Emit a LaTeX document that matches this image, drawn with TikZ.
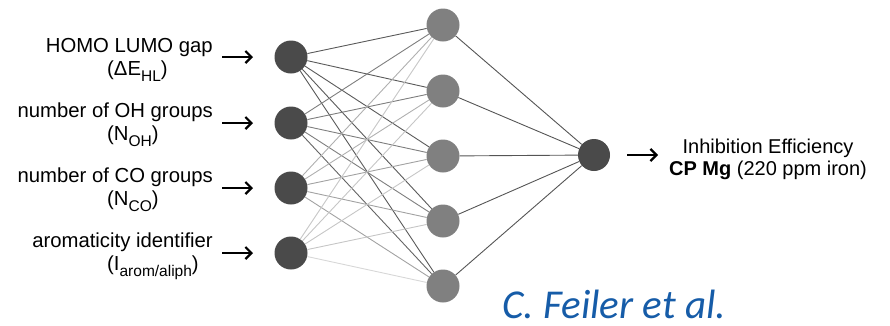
\documentclass[tikz,border=0pt]{standalone}
\usepackage{fontspec}
\setmainfont{Liberation Sans}
\newfontfamily\citefont{Carlito}
\usetikzlibrary{arrows.meta}

\definecolor{nodedark}{HTML}{4A4A4A}
\definecolor{nodemid}{HTML}{808080}
\definecolor{wA}{HTML}{5A5A5A}
\definecolor{wB}{HTML}{7E7E7E}
\definecolor{wC}{HTML}{A2A2A2}
\definecolor{wD}{HTML}{C6C6C6}
\definecolor{wOut}{HTML}{555555}
\definecolor{citeblue}{RGB}{22,92,168}

% lowered, smaller subscript as in the feature labels
\newcommand\lowsub[1]{\raisebox{-6pt}{\fontsize{15.5}{15.5}\selectfont #1}}

\begin{document}
\begin{tikzpicture}[x=1pt,y=-1pt,
  neuron/.style={circle,inner sep=0pt,minimum size=33pt},
  inneuron/.style={neuron,fill=nodedark},
  hidneuron/.style={neuron,fill=nodemid},
  outneuron/.style={neuron,fill=nodedark,minimum size=32pt},
  lab/.style={font=\fontsize{20.3}{23}\selectfont,inner sep=0pt},
  outlab/.style={font=\fontsize{20}{23}\selectfont,inner sep=0pt},
  link/.style={line width=0.9pt},
  feed/.style={line width=2.2pt,-{Straight Barb[length=6pt,width=12pt]}}
]
\useasboundingbox (0,0) rectangle (890,325);

% neurons
\node[inneuron] (i1) at (291,57) {};
\node[inneuron] (i2) at (291,123) {};
\node[inneuron] (i3) at (291,188) {};
\node[inneuron] (i4) at (291,253) {};

\node[hidneuron] (h1) at (443,25) {};
\node[hidneuron] (h2) at (443,91) {};
\node[hidneuron] (h3) at (443,156) {};
\node[hidneuron] (h4) at (443,221) {};
\node[hidneuron] (h5) at (443,286) {};

\node[outneuron] (o) at (594,155) {};

% weights, input -> hidden
\foreach \j in {1,...,5} {
  \draw[link,wA] (i1) -- (h\j);
}
\foreach \j in {1,...,4} {
  \draw[link,wB] (i2) -- (h\j);
}
\draw[link,color=wA!70!wB] (i2) -- (h5);
\draw[link,wC!60!wD] (i3) -- (h1);
\draw[link,wC!60!wD] (i3) -- (h2);
\foreach \j in {3,4,5} {
  \draw[link,wC] (i3) -- (h\j);
}
\foreach \j in {1,...,4} {
  \draw[link,wD] (i4) -- (h\j);
}
\draw[link,wD!70!white] (i4) -- (h5);

% weights, hidden -> output
\foreach \j in {1,...,5} {
  \draw[link,wOut] (h\j) -- (o);
}

% input features
\node[lab,anchor=base east] (l1a) at (213,52) {HOMO LUMO gap};
\node[lab,anchor=base west] (l1b) at (107,75) {(ΔE\lowsub{HL})};
\node[lab,anchor=base east] (l2a) at (213,117) {number of OH groups};
\node[lab,anchor=base west] (l2b) at (107,140) {(N\lowsub{OH})};
\node[lab,anchor=base east] (l3a) at (213,182) {number of CO groups};
\node[lab,anchor=base west] (l3b) at (107,205) {(N\lowsub{CO})};
\node[lab,anchor=base east] (l4a) at (213,247) {aromaticity identifier};
\node[lab,anchor=base west] (l4b) at (107,270) {(I\lowsub{arom/aliph})};

\coordinate (a1s) at (222,57);  \coordinate (a1e) at (253,57);
\coordinate (a2s) at (222,123); \coordinate (a2e) at (253,123);
\coordinate (a3s) at (222,188); \coordinate (a3e) at (253,188);
\coordinate (a4s) at (222,253); \coordinate (a4e) at (253,253);
\draw[feed] (a1s) -- (a1e);
\draw[feed] (a2s) -- (a2e);
\draw[feed] (a3s) -- (a3e);
\draw[feed] (a4s) -- (a4e);

% output
\coordinate (aos) at (627,155); \coordinate (aoe) at (658,155);
\draw[feed] (aos) -- (aoe);
\node[outlab,anchor=base] (t1) at (768,153) {Inhibition Efficiency};
\node[outlab,anchor=base] (t2) at (768,175) {\textbf{CP Mg} (220 ppm iron)};

% reference
\node[anchor=base west,inner sep=0pt,text depth=0pt,text=citeblue,
      font=\citefont\itshape\fontsize{41}{42}\selectfont] (cite) at (502,318) {C. Feiler et al.};
\end{tikzpicture}
\end{document}
